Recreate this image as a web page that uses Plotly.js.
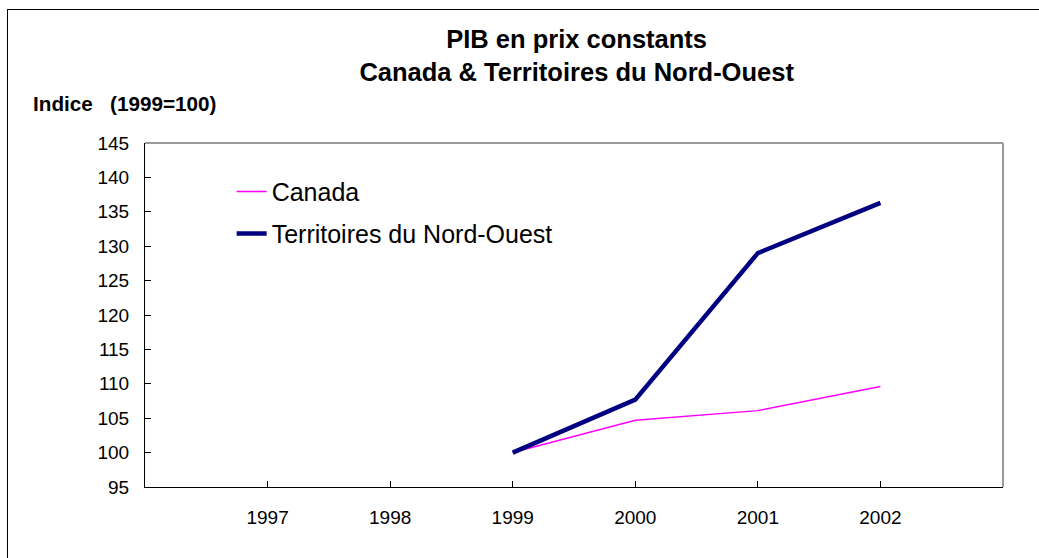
<!DOCTYPE html>
<html>
<head>
<meta charset="utf-8">
<script src="https://cdn.plot.ly/plotly-3.0.1.min.js"></script>
<style>
html,body{margin:0;padding:0;background:#fff;}
#wrap{position:relative;width:1039px;height:558px;overflow:hidden;}
#frame{position:absolute;left:7px;top:9px;width:1100px;height:600px;border-left:1px solid #000;border-top:1px solid #000;pointer-events:none;}
#chart{position:absolute;left:0;top:0;width:1039px;height:558px;}
</style>
</head>
<body>
<div id="wrap"><div id="chart"></div><div id="frame"></div></div>
<script>
const years = [1999, 2000, 2001, 2002];
const canada = [100, 104.7, 106.1, 109.6];
const tno = [100, 107.7, 129.0, 136.3];
const tickYears = [1997, 1998, 1999, 2000, 2001, 2002];
const yTicks = [95, 100, 105, 110, 115, 120, 125, 130, 135, 140, 145];

const font = 'Arial, "Liberation Sans", sans-serif';

const traces = [
  {x: years, y: canada, name: 'Canada', type: 'scatter', mode: 'lines',
   line: {color: '#FF00FF', width: 1.5}, legend: 'legend', showlegend: true},
  {x: years, y: tno, name: 'Territoires du Nord-Ouest', type: 'scatter', mode: 'lines',
   line: {color: '#000080', width: 4.5}, legend: 'legend2', showlegend: true}
];

const layout = {
  width: 1039, height: 558,
  showlegend: true,
  margin: {l: 145, r: 36, t: 143, b: 71},
  paper_bgcolor: 'rgba(0,0,0,0)', plot_bgcolor: '#fff',
  font: {family: font, color: '#000', size: 19},
  title: {text: '<b>PIB en prix constants<br>Canada & Territoires du Nord-Ouest</b>',
          font: {family: font, size: 25.5, color: '#000'},
          x: 0.555, xanchor: 'center', y: 0.914, yanchor: 'top'},
  xaxis: {range: [1996, 2003], tickvals: tickYears, ticktext: tickYears.map(String),
          showgrid: false, zeroline: false, showline: true, linecolor: '#000', linewidth: 1,
          ticks: 'inside', ticklen: 6, tickcolor: '#000', tickfont: {size: 19},
          ticklabelstandoff: 13, fixedrange: true},
  yaxis: {range: [95, 145], tickvals: yTicks, showgrid: false, zeroline: false,
          showline: true, linecolor: '#000', linewidth: 1,
          ticks: 'inside', ticklen: 6, tickcolor: '#000', tickfont: {size: 19},
          ticklabelstandoff: 11, fixedrange: true},
  legend: {x: 0.101, y: 0.858, xanchor: 'left', yanchor: 'middle', bgcolor: 'rgba(0,0,0,0)',
           font: {size: 25, family: font}},
  legend2: {x: 0.101, y: 0.736, xanchor: 'left', yanchor: 'middle', bgcolor: 'rgba(0,0,0,0)',
           font: {size: 25, family: font}},
  shapes: [
    {type: 'line', xref: 'paper', yref: 'paper', x0: 0, x1: 1, y0: 1, y1: 1,
     line: {color: '#999', width: 2}},
    {type: 'line', xref: 'paper', yref: 'paper', x0: 1, x1: 1, y0: 0, y1: 1,
     line: {color: '#999', width: 2}}
  ],
  annotations: [
    {text: '<b>Indice   (1999=100)</b>', xref: 'paper', yref: 'paper',
     x: -0.133, y: 1.1155, xanchor: 'left', yanchor: 'middle', showarrow: false,
     font: {size: 20.7, family: font, color: '#000'}}
  ]
};

Plotly.newPlot('chart', traces, layout, {displayModeBar: false, staticPlot: true});
</script>
</body>
</html>
